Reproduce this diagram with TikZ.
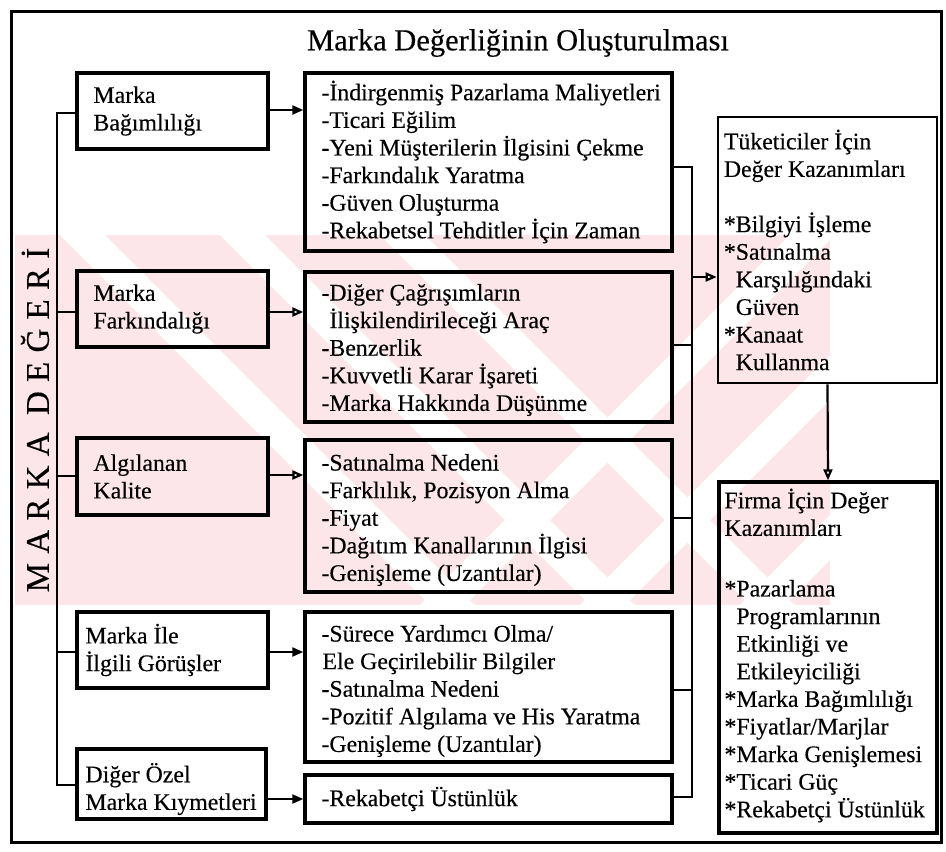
\documentclass[tikz,border=0pt]{standalone}
\usepackage{fontspec}
\setmainfont[FakeBold=0.3]{Liberation Serif}
\newfontfamily\spacedfont[LetterSpace=28,FakeBold=0.3]{Liberation Serif}
\usetikzlibrary{arrows.meta,calc}
\definecolor{wmpink}{RGB}{252,230,234}

\begin{document}
\begin{tikzpicture}[x=1pt,y=-1pt,
  frame/.style={draw,line width=3.4pt,inner sep=0pt},
  txt/.style={inner sep=0pt,align=left,anchor=west,
    font=\fontsize{23.8}{27.6}\selectfont},
  wire/.style={line width=2.2pt},
  arr/.style={wire,-{Triangle[length=11pt,width=9pt]}},
  arro/.style={wire,-{Triangle[open,length=11pt,width=9pt,fill=white]}},
]
\useasboundingbox (0,0) rectangle (946,852);

% faint background mark
\begin{scope}
  \clip (15,235) rectangle (830,605);
  \fill[wmpink] (15,235) rectangle (830,605);
  \foreach \x in {60,220,380} {
    \fill[white] (\x,235) -- ++(45,0) -- ++(370,370) -- ++(-45,0) -- cycle;
  }
  \foreach \x in {420,580,740} {
    \fill[white] (\x,605) -- ++(45,0) -- ++(370,-370) -- ++(-45,0) -- cycle;
  }
\end{scope}

% outer frame
\draw[line width=3pt] (11,11) rectangle (941,842);

% title
\node[inner sep=0pt,font=\fontsize{30.5}{34}\selectfont] (title) at (518,43)
  {Marka Değerliğinin Oluşturulması};

% vertical label
\node[inner sep=0pt,rotate=90,font=\spacedfont\fontsize{33}{36}\selectfont] (mdeg) at (35,420)
  {MARKA DEĞERİ};

% left column
\node[frame,minimum width=191pt,minimum height=76pt] (l1) at (172.5,111) {};
\node[txt] (l1t) at ([xshift=18pt]l1.west) {Marka\\Bağımlılığı};
\node[frame,minimum width=191pt,minimum height=76pt] (l2) at (172.5,309) {};
\node[txt] (l2t) at ([xshift=18pt]l2.west) {Marka\\Farkındalığı};
\node[frame,minimum width=191pt,minimum height=77pt] (l3) at (172.5,476.5) {};
\node[txt] (l3t) at ([xshift=18pt]l3.west) {Algılanan\\Kalite};
\node[frame,minimum width=191pt,minimum height=76pt] (l4) at (172.5,650) {};
\node[txt] (l4t) at ([xshift=10pt]l4.west) {Marka İle\\İlgili Görüşler};
\node[frame,minimum width=189pt,minimum height=70pt] (l5) at (171.5,784) {};
\node[txt] (l5t) at ([xshift=10pt,yshift=-5pt]l5.west) {Diğer Özel\\Marka Kıymetleri};

% middle column
\node[frame,minimum width=367pt,minimum height=178pt] (mA) at (488.5,162) {};
\node[txt] (mAt) at ([xshift=18pt]mA.west)
  {-İndirgenmiş Pazarlama Maliyetleri\\-Ticari Eğilim\\-Yeni Müşterilerin İlgisini Çekme\\-Farkındalık Yaratma\\-Güven Oluşturma\\-Rekabetsel Tehditler İçin Zaman};
\node[frame,minimum width=367pt,minimum height=150pt] (mB) at (488.5,347) {};
\node[txt] (mBt) at ([xshift=18pt,yshift=-3pt]mB.west)
  {-Diğer Çağrışımların\\\phantom{-}İlişkilendirileceği Araç\\-Benzerlik\\-Kuvvetli Karar İşareti\\-Marka Hakkında Düşünme};
\node[frame,minimum width=367pt,minimum height=152pt] (mC) at (488.5,516) {};
\node[txt] (mCt) at ([xshift=18pt,yshift=-4pt]mC.west)
  {-Satınalma Nedeni\\-Farklılık, Pozisyon Alma\\-Fiyat\\-Dağıtım Kanallarının İlgisi\\-Genişleme (Uzantılar)};
\node[frame,minimum width=367pt,minimum height=150pt] (mD) at (488.5,687) {};
\node[txt] (mDt) at ([xshift=18pt,yshift=-4pt]mD.west)
  {-Sürece Yardımcı Olma/\\\hspace*{1pt}Ele Geçirilebilir Bilgiler\\-Satınalma Nedeni\\-Pozitif Algılama ve His Yaratma\\-Genişleme (Uzantılar)};
\node[frame,minimum width=367pt,minimum height=48pt] (mE) at (488.5,799) {};
\node[txt] (mEt) at ([xshift=18pt]mE.west) {-Rekabetçi Üstünlük};

% right column
\node[frame,line width=2.6pt,minimum width=219pt,minimum height=266pt] (rT) at (827.5,250) {};
\node[txt] (rTt) at ([xshift=7pt]rT.west)
  {Tüketiciler İçin\\Değer Kazanımları\\[27.6pt]*Bilgiyi İşleme\\*Satınalma\\\phantom{*}Karşılığındaki\\\phantom{*}Güven\\*Kanaat\\\phantom{*}Kullanma};
\node[frame,minimum width=218pt,minimum height=351pt] (rF) at (828,657.5) {};
\node[txt] (rFt) at ([xshift=7pt,yshift=2pt]rF.west)
  {Firma İçin Değer\\Kazanımları\\[33pt]*Pazarlama\\\phantom{*}Programlarının\\\phantom{*}Etkinliği ve\\\phantom{*}Etkileyiciliği\\*Marka Bağımlılığı\\*Fiyatlar/Marjlar\\*Marka Genişlemesi\\*Ticari Güç\\*Rekabetçi Üstünlük};

% left bus
\draw[wire] (l1.west |- 0,113) -- (57,113) -- (57,785) -- (l5.west |- 0,785);
\draw[wire] (l2.west |- 0,312) -- (57,312);
\draw[wire] (l3.west |- 0,476) -- (57,476);
\draw[wire] (l4.west |- 0,652) -- (57,652);

% arrows into the middle column
\draw[arr]  (l1.east |- 0,110) -- (mA.west |- 0,110);
\draw[arro] (l2.east |- 0,312) -- (mB.west |- 0,312);
\draw[arro] (l3.east |- 0,475) -- (mC.west |- 0,475);
\draw[arr]  (l4.east |- 0,652) -- (mD.west |- 0,652);
\draw[arr]  (l5.east |- 0,799) -- (mE.west |- 0,799);

% right bus
\draw[wire] (mA.east |- 0,167) -- (692,167) -- (692,797) -- (mE.east |- 0,797);
\draw[wire] (mB.east |- 0,345) -- (692,345);
\draw[wire] (mC.east |- 0,518) -- (692,518);
\draw[wire] (mD.east |- 0,690) -- (692,690);
\coordinate (toT) at (692,277);
\draw[arro] (toT) -- (toT -| rT.west);

% consumer gains lead to firm gains
\draw[arro] (rT.south) -- (rF.north);

\end{tikzpicture}
\end{document}
